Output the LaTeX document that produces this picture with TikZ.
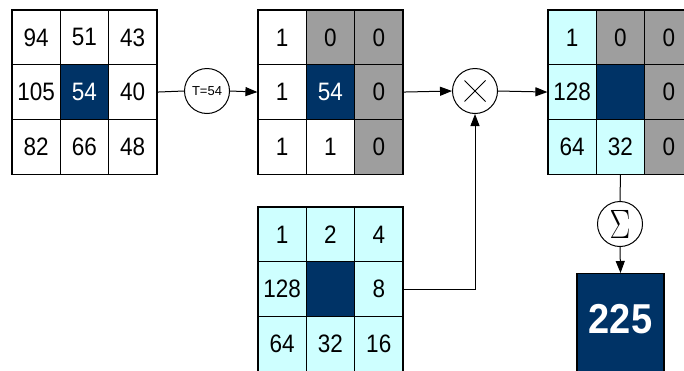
\documentclass[tikz,border=0pt]{standalone}
\usepackage{fontspec}
\setmainfont{Liberation Sans}
\usepackage{graphicx}
\usetikzlibrary{arrows.meta}
\definecolor{navy}{RGB}{0,51,102}
\definecolor{shade}{RGB}{158,158,158}
\definecolor{aqua}{RGB}{206,255,255}
\newcommand\tallnum[1]{\scalebox{1}[1.12]{#1}}
\begin{document}
\begin{tikzpicture}[x=1pt,y=-1pt,
  cell/.style={draw=black, line width=1.2pt, minimum width=48.3pt, minimum height=54.7pt,
    inner sep=0pt, font=\fontsize{22.5}{22.5}\selectfont},
  opnode/.style={circle, draw=black, line width=1pt, minimum size=45pt, inner sep=0pt, fill=white},
  link/.style={draw=black, line width=1pt},
  flow/.style={link, -{Triangle[length=12pt,width=9pt]}}]
\useasboundingbox (0,0) rectangle (684,370);
\clip (0,0) rectangle (684,370);

% input neighbourhood
\foreach \r/\c/\f/\t/\v in {1/1/white/black/94, 1/2/white/black/51, 1/3/white/black/43,
  2/1/white/black/105, 2/2/navy/white/54, 2/3/white/black/40,
  3/1/white/black/82, 3/2/white/black/66, 3/3/white/black/48}
  \node[cell, fill=\f, text=\t] (in-\r-\c) at ({12+48.3*(\c-0.5)},{10+54.7*(\r-0.5)}) {\tallnum{\v}};

% thresholded neighbourhood
\foreach \r/\c/\f/\t/\v in {1/1/white/black/1, 1/2/shade/black/0, 1/3/shade/black/0,
  2/1/white/black/1, 2/2/navy/white/54, 2/3/shade/black/0,
  3/1/white/black/1, 3/2/white/black/1, 3/3/shade/black/0}
  \node[cell, fill=\f, text=\t] (th-\r-\c) at ({258+48.3*(\c-0.5)},{10+54.7*(\r-0.5)}) {\tallnum{\v}};

% weighted neighbourhood
\foreach \r/\c/\f/\t/\v in {1/1/aqua/black/1, 1/2/shade/black/0, 1/3/shade/black/0,
  2/1/aqua/black/128, 2/2/navy/white/, 2/3/shade/black/0,
  3/1/aqua/black/64, 3/2/aqua/black/32, 3/3/shade/black/0}
  \node[cell, fill=\f, text=\t] (wt-\r-\c) at ({548+48.3*(\c-0.5)},{10+54.7*(\r-0.5)}) {\tallnum{\v}};

% weight mask
\foreach \r/\c/\f/\t/\v in {1/1/aqua/black/1, 1/2/aqua/black/2, 1/3/aqua/black/4,
  2/1/aqua/black/128, 2/2/navy/white/, 2/3/aqua/black/8,
  3/1/aqua/black/64, 3/2/aqua/black/32, 3/3/aqua/black/16}
  \node[cell, fill=\f, text=\t] (mk-\r-\c) at ({258+48.3*(\c-0.5)},{207+54.7*(\r-0.5)}) {\tallnum{\v}};

% operators
\node[opnode, font=\fontsize{13}{13}\selectfont] (thr) at (207,91) {T=54};
\node[opnode] (mult) at (475,91) {};
\draw[line width=1pt] ([shift={(-10.5,-10.5)}]mult.center) -- ([shift={(10.5,10.5)}]mult.center);
\draw[line width=1pt] ([shift={(-10.5,10.5)}]mult.center) -- ([shift={(10.5,-10.5)}]mult.center);
\node[opnode, font=\fontsize{24}{24}\selectfont] (sum) at (620,224) {\scalebox{1.25}[1.65]{$\Sigma$}};

% result
\node[draw=black, line width=1.2pt, fill=navy, minimum width=87pt, minimum height=110pt,
  anchor=north, inner sep=0pt] (res) at (620.5,273) {};
\node[text=white, font=\fontsize{38}{38}\selectfont\bfseries] (resval) at (620.5,319) {\scalebox{1}[1.1]{225}};

% connectors
\draw[link] (in-2-3.east) -- (thr.west);
\draw[flow] (thr.east) -- (th-2-1.west);
\draw[flow] (th-2-3.east) -- (mult.west);
\draw[flow] (mult.east) -- (wt-2-1.west);
\draw[flow] (mk-2-3.east) -| (mult.south);
\draw[link] (wt-3-2.south) -- (sum.north);
\draw[flow] (sum.south) -- (res.north);
\end{tikzpicture}
\end{document}
